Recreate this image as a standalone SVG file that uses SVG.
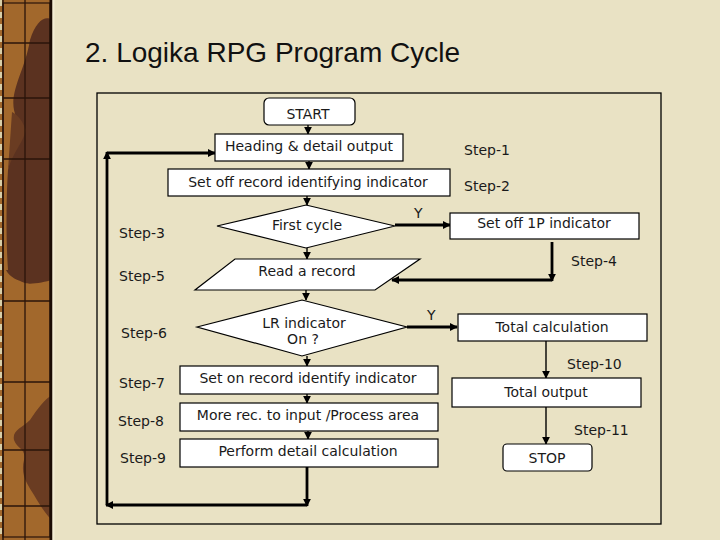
<svg xmlns="http://www.w3.org/2000/svg" width="720" height="540" viewBox="0 0 720 540">
<defs>
<style>
.bg{fill:#E9E2C4}
.box{fill:#FFFFFF;stroke:#000;stroke-width:1.2}
.t{font-family:"DejaVu Sans",Verdana,sans-serif;font-size:14px;fill:#1a1a1a}
.tc{text-anchor:middle}
.title{font-family:"Liberation Sans",Arial,sans-serif;font-size:28px;fill:#111}
.thin{stroke:#000;stroke-width:1.4;fill:none}
.thick{stroke:#000;stroke-width:2.8;fill:none}
.grid{stroke:#2a140a;stroke-width:1.3}
</style>
<marker id="ah" viewBox="0 0 10 10" refX="9" refY="5" markerWidth="8" markerHeight="8" markerUnits="userSpaceOnUse" orient="auto">
<path d="M0,0 L10,5 L0,10 z" fill="#000"/>
</marker>
</defs>
<rect class="bg" x="0" y="0" width="720" height="540"/>
<g id="strip">
<rect x="0" y="0" width="52" height="540" fill="#A2682C"/>
<path d="M30,40 C36,20 46,15 52,20 L52,270 L8,270 C6,240 6,200 8,170 C12,150 20,130 14,110 C10,90 25,70 30,40 Z" fill="#5B3220"/>
<path d="M8,170 C14,150 22,145 26,130 C22,120 18,115 12,112 Z" fill="#6A3C22"/>
<path d="M6,270 L52,270 L52,280 C45,282 30,285 25,283 C18,280 10,278 6,270 Z" fill="#5B3220"/>
<path d="M52,395 C44,400 38,408 30,420 C22,428 12,430 14,440 C18,450 26,448 24,460 C20,475 28,485 34,495 C40,505 46,515 52,520 Z" fill="#6A3C22"/>
<line class="grid" x1="25" y1="0" x2="25" y2="540"/>
<line class="grid" x1="3" y1="43" x2="50" y2="43"/>
<line class="grid" x1="3" y1="98" x2="50" y2="98"/>
<line class="grid" x1="3" y1="159" x2="50" y2="159"/>
<line class="grid" x1="3" y1="301" x2="50" y2="301"/>
<line class="grid" x1="3" y1="382" x2="50" y2="382"/>
<line class="grid" x1="3" y1="450" x2="50" y2="450"/>
<line class="grid" x1="3" y1="506" x2="50" y2="506"/>
<line x1="3" y1="0" x2="3" y2="540" stroke="#2a140a" stroke-width="1.5"/>
<line x1="1" y1="0" x2="1" y2="540" stroke="#d8cfa8" stroke-width="2" stroke-dasharray="6 6"/>
<rect x="3" y="3" width="47" height="534" fill="none" stroke="#2a140a" stroke-width="1.2"/>
<line x1="51" y1="0" x2="51" y2="540" stroke="#1a0c05" stroke-width="3"/>
<line x1="53.5" y1="0" x2="53.5" y2="540" stroke="#F2ECD4" stroke-width="2"/>
</g>
<text class="title" x="85" y="62">2. Logika RPG Program Cycle</text>
<rect id="frame" x="97" y="93" width="564" height="431" fill="none" stroke="#000" stroke-width="1.3"/>
<g id="connectors">
<line class="thin" x1="308" y1="125" x2="308" y2="134" marker-end="url(#ah)"/>
<line class="thin" x1="309" y1="161" x2="309" y2="169" marker-end="url(#ah)"/>
<line class="thin" x1="307" y1="196" x2="307" y2="205" marker-end="url(#ah)"/>
<line class="thin" x1="307" y1="248" x2="307" y2="259" marker-end="url(#ah)"/>
<line class="thin" x1="306" y1="290" x2="306" y2="300" marker-end="url(#ah)"/>
<line class="thin" x1="307" y1="356" x2="307" y2="366" marker-end="url(#ah)"/>
<line class="thin" x1="307" y1="394" x2="307" y2="403" marker-end="url(#ah)"/>
<line class="thin" x1="308" y1="431" x2="308" y2="439" marker-end="url(#ah)"/>
<line class="thick" x1="395" y1="225" x2="450" y2="225" marker-end="url(#ah)"/>
<line class="thick" x1="552" y1="242" x2="552" y2="281" marker-end="url(#ah)"/>
<line class="thick" x1="552" y1="280" x2="392" y2="280" marker-end="url(#ah)"/>
<line class="thick" x1="407" y1="327" x2="457" y2="327" marker-end="url(#ah)"/>
<line class="thin" x1="546" y1="341" x2="546" y2="378" marker-end="url(#ah)"/>
<line class="thin" x1="546" y1="407" x2="546" y2="444" marker-end="url(#ah)"/>
<line class="thick" x1="307" y1="467" x2="307" y2="506" marker-end="url(#ah)"/>
<line class="thick" x1="307" y1="505" x2="106" y2="505" marker-end="url(#ah)"/>
<line class="thick" x1="107" y1="505" x2="107" y2="152" marker-end="url(#ah)"/>
<line class="thick" x1="107" y1="153" x2="215" y2="153" marker-end="url(#ah)"/>
</g>
<g id="start"><rect class="box" x="264" y="98" width="91" height="27" rx="5"/><text class="t tc" x="308" y="119">START</text></g>
<g id="step1"><rect class="box" x="215" y="134" width="188" height="27"/><text class="t tc" x="309" y="151">Heading &amp; detail output</text></g>
<g id="step2"><rect class="box" x="168" y="169" width="282" height="27"/><text class="t tc" x="308" y="187">Set off record identifying indicator</text></g>
<g id="step3"><polygon class="box" points="217,226 306,205 395,226 306,248"/><text class="t tc" x="307" y="230">First cycle</text></g>
<g id="step4"><rect class="box" x="450" y="213" width="189" height="26"/><text class="t tc" x="544" y="228">Set off 1P indicator</text></g>
<g id="step5"><polygon class="box" points="235,259 420,259 375,290 195,290"/><text class="t tc" x="307" y="276">Read a record</text></g>
<g id="step6"><polygon class="box" points="197,327 302,300 407,327 302,356"/><text class="t tc" x="304" y="328">LR indicator</text><text class="t tc" x="303" y="344">On ?</text></g>
<g id="step7"><rect class="box" x="180" y="366" width="258" height="28"/><text class="t tc" x="308" y="383">Set on record identify indicator</text></g>
<g id="step8"><rect class="box" x="180" y="403" width="258" height="28"/><text class="t tc" x="308" y="420">More rec. to input /Process area</text></g>
<g id="step9"><rect class="box" x="180" y="439" width="258" height="28"/><text class="t tc" x="308" y="456">Perform detail calculation</text></g>
<g id="step10"><rect class="box" x="458" y="314" width="189" height="27"/><text class="t tc" x="552" y="332">Total calculation</text></g>
<g id="step11"><rect class="box" x="452" y="378" width="189" height="29"/><text class="t tc" x="546" y="397">Total output</text></g>
<g id="stop"><rect class="box" x="503" y="444" width="89" height="27" rx="4"/><text class="t tc" x="547" y="463">STOP</text></g>
<g id="labels">
<text class="t" x="464" y="155">Step-1</text>
<text class="t" x="464" y="191">Step-2</text>
<text class="t" x="119" y="238">Step-3</text>
<text class="t" x="571" y="266">Step-4</text>
<text class="t" x="119" y="281">Step-5</text>
<text class="t" x="121" y="338">Step-6</text>
<text class="t" x="119" y="388">Step-7</text>
<text class="t" x="118" y="426">Step-8</text>
<text class="t" x="120" y="463">Step-9</text>
<text class="t" x="567" y="369">Step-10</text>
<text class="t" x="574" y="435">Step-11</text>
<text class="t" x="414" y="218">Y</text>
<text class="t" x="427" y="320">Y</text>
</g>
</svg>
